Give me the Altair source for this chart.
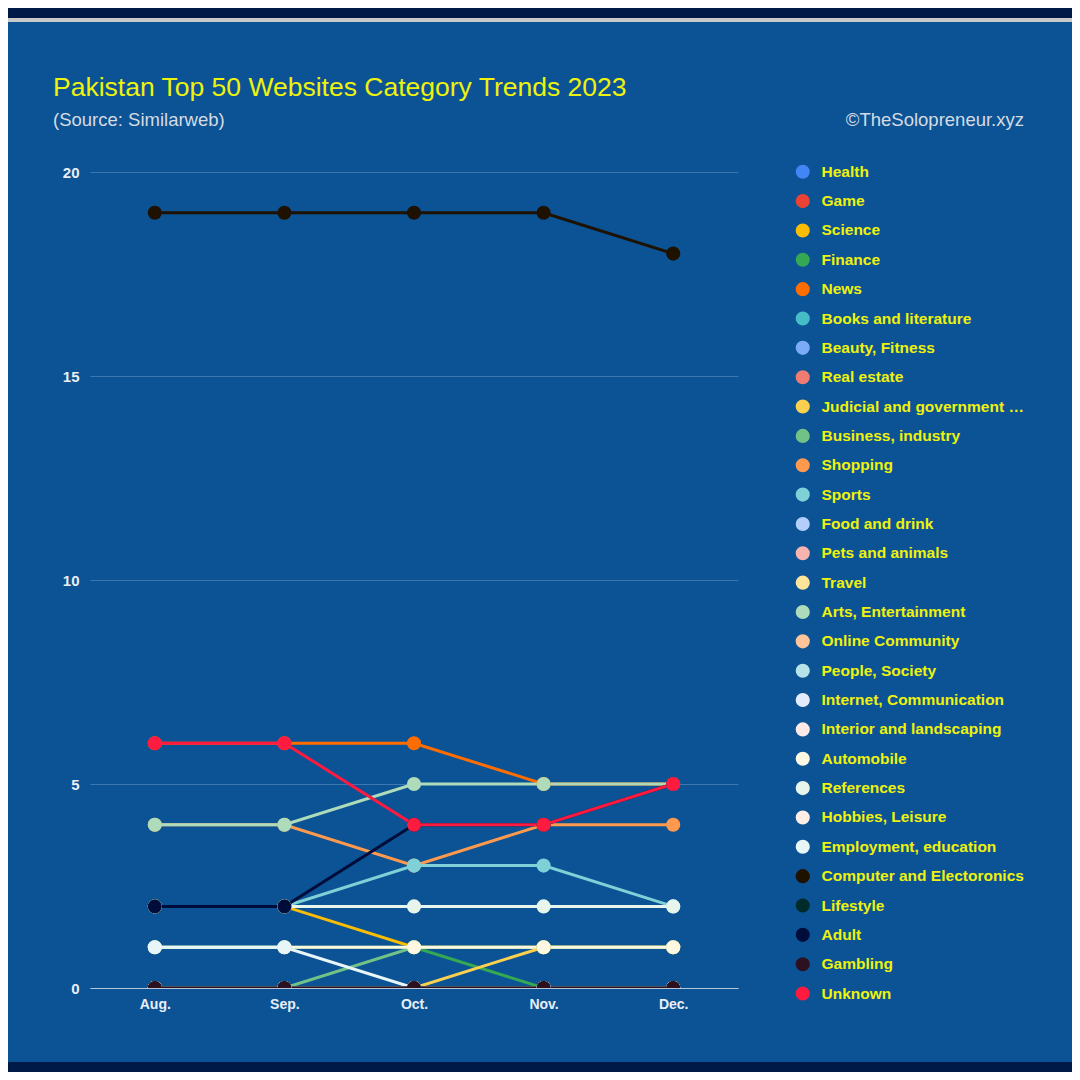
import altair as alt
import pandas as pd

months = ["Aug.", "Sep.", "Oct.", "Nov.", "Dec."]

categories = [
    "Health", "Game", "Science", "Finance", "News", "Books and literature",
    "Beauty, Fitness", "Real estate", "Judicial and government agencies",
    "Business, industry", "Shopping", "Sports", "Food and drink",
    "Pets and animals", "Travel", "Arts, Entertainment", "Online Community",
    "People, Society", "Internet, Communication", "Interior and landscaping",
    "Automobile", "References", "Hobbies, Leisure", "Employment, education",
    "Computer and Electoronics", "Lifestyle", "Adult", "Gambling", "Unknown",
]

colors = [
    "#4285f4", "#ea4335", "#fbbc04", "#34a853", "#ff6d01", "#46bdc6",
    "#7baaf7", "#f07b72", "#fcd04f", "#71c287", "#ff994d", "#7ed1d7",
    "#b3cefb", "#f7b4ae", "#fde49b", "#aedcba", "#ffc599", "#b5e3e8",
    "#e3ecfd", "#fce8e6", "#fef8e3", "#e8f5ec", "#ffeee6", "#e8f6f8",
    "#1e1100", "#002b2b", "#000d3a", "#2c1220", "#ff1a40",
]

# values per month, in the order of `categories`
aug = [0, 0, 2, 1, 6, 0, 0, 0, 0, 0, 4, 2, 0, 0, 0, 4, 0, 0, 0, 0, 1, 2, 0, 1, 19, 0, 2, 0, 6]
sep = [0, 0, 2, 1, 6, 0, 0, 0, 0, 0, 4, 2, 0, 0, 0, 4, 0, 0, 0, 0, 1, 2, 0, 1, 19, 0, 2, 0, 6]
oct_ = [0, 0, 1, 1, 6, 0, 0, 0, 0, 1, 3, 3, 0, 0, 0, 5, 0, 0, 0, 0, 1, 2, 0, 0, 19, 0, 4, 0, 4]
nov = [0, 0, 1, 0, 5, 0, 0, 0, 1, 1, 4, 3, 0, 0, 0, 5, 0, 0, 0, 0, 1, 2, 0, 0, 19, 0, 4, 0, 4]
dec = [0, 0, 1, 0, 5, 0, 0, 0, 1, 1, 4, 2, 0, 0, 0, 5, 0, 0, 0, 0, 1, 2, 0, 0, 18, 0, 5, 0, 5]

title_text = "Pakistan Top 50 Websites Category Trends 2023"
subtitle_text = "(Source: Similarweb)"
credit_text = "©TheSolopreneur.xyz"

rows = []
for ci, cat in enumerate(categories):
    for mi, vals in enumerate([aug, sep, oct_, nov, dec]):
        rows.append({"category": cat, "month": months[mi], "value": vals[ci], "order": ci})
df = pd.DataFrame(rows)

YELLOW = "#eef20c"
BG = "#0b5394"
NAVY = "#001a48"
GREYTXT = "#d6dbe3"

x_enc = alt.X("month:N", sort=months, scale=alt.Scale(type="point", padding=0.5),
              axis=alt.Axis(title=None, labelAngle=0, labelColor="#e8eef6", labelFontSize=14,
                            labelFontWeight="bold", labelFont="Liberation Sans", labelPadding=9,
                            ticks=False, domainColor="#b8c6da", domainWidth=1.2, grid=False))
y_enc = alt.Y("value:Q", scale=alt.Scale(domain=[0, 20], nice=False),
              axis=alt.Axis(title=None, values=[0, 5, 10, 15, 20], labelColor="#e8eef6",
                            labelFontSize=15, labelFontWeight="bold", labelFont="Liberation Sans",
                            labelPadding=11, ticks=False, domain=False, grid=True,
                            gridColor="#3e78b2", gridWidth=1))
color_enc = alt.Color("category:N", sort=categories,
                      scale=alt.Scale(domain=categories, range=colors),
                      legend=alt.Legend(title=None, orient="none", legendX=705, legendY=-8,
                                        symbolType="circle", symbolSize=200, symbolStrokeWidth=0,
                                        labelColor=YELLOW, labelFontSize=15.5, labelFontWeight="bold",
                                        labelFont="Liberation Sans", labelLimit=205, labelOffset=11,
                                        rowPadding=12.35, padding=0, symbolOpacity=1))

base = alt.Chart(df)

lines = base.mark_line(strokeWidth=3, clip=True).encode(
    x=x_enc, y=y_enc, color=color_enc, order=alt.Order("order:Q")
)
points = base.mark_circle(size=200, opacity=1, clip=True).encode(
    x=x_enc, y=y_enc, color=color_enc, order=alt.Order("order:Q")
)

one = pd.DataFrame({"k": [0]})
top_bar = alt.Chart(one).mark_rect(color=NAVY).encode(
    x=alt.value(-82), x2=alt.value(982), y=alt.value(-164), y2=alt.value(-154))
gray_line = alt.Chart(one).mark_rect(color="#c9c9c9").encode(
    x=alt.value(-82), x2=alt.value(982), y=alt.value(-154), y2=alt.value(-150))
bottom_bar = alt.Chart(one).mark_rect(color=NAVY).encode(
    x=alt.value(-82), x2=alt.value(982), y=alt.value(890), y2=alt.value(900))

title = alt.Chart(pd.DataFrame({"t": [title_text]})).mark_text(
    align="left", baseline="alphabetic", fontSize=26.5, font="Liberation Sans", color=YELLOW
).encode(x=alt.value(-37), y=alt.value(-76), text="t:N")
subtitle = alt.Chart(pd.DataFrame({"t": [subtitle_text]})).mark_text(
    align="left", baseline="alphabetic", fontSize=18.5, font="Liberation Sans", color=GREYTXT
).encode(x=alt.value(-37), y=alt.value(-46), text="t:N")
credit = alt.Chart(pd.DataFrame({"t": [credit_text]})).mark_text(
    align="right", baseline="alphabetic", fontSize=18.5, font="Liberation Sans", color=GREYTXT
).encode(x=alt.value(934), y=alt.value(-46), text="t:N")

chart = alt.layer(top_bar, gray_line, bottom_bar, title, subtitle, credit, lines, points).properties(
    width=648, height=816,
    padding={"left": 82, "top": 164, "right": 334, "bottom": 84},
    autosize=alt.AutoSizeParams(type="none"),
    background=BG,
).configure_view(stroke=None)

chart.save("out.html", embed_options={"renderer": "svg", "actions": False})
